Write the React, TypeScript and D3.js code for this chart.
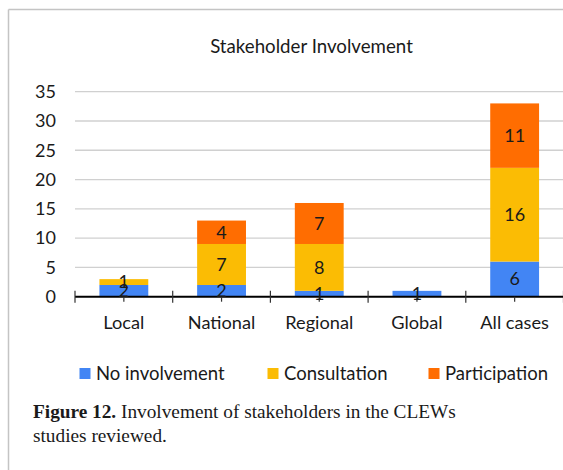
import React from "react";
import * as d3 from "d3";

const categories = ["Local", "National", "Regional", "Global", "All cases"];
const seriesNames = ["No involvement", "Consultation", "Participation"];
const noInvolvement = [2, 2, 1, 1, 6];
const consultation = [1, 7, 8, 0, 16];
const participation = [0, 4, 7, 0, 11];
const seriesColors = ["#4285f4", "#fbbc04", "#ff6d01"];
const yTicks = [0, 5, 10, 15, 20, 25, 30, 35];
const title = "Stakeholder Involvement";
const captionBold = "Figure 12.";
const captionRest = " Involvement of stakeholders in the CLEWs";
const captionLine2 = "studies reviewed.";

const W = 563;
const H = 470;
const FONT = "Lato, 'Open Sans', sans-serif";
const SERIF = "'Liberation Serif', 'DejaVu Serif', serif";

export default function App() {
  const x = d3.scaleBand<string>().domain(categories).range([75, 563.5]).paddingInner(0.5).paddingOuter(0.25);
  const y = d3.scaleLinear().domain([0, 35]).range([296.7, 91.7]);
  const rows = categories.map((c, i) => ({
    cat: c,
    s0: noInvolvement[i],
    s1: consultation[i],
    s2: participation[i],
  }));
  const stack = d3.stack<any>().keys(["s0", "s1", "s2"]);
  const layers = stack(rows);
  const step = x.step();
  const x0 = x.range()[0];
  const y0 = y(0);
  const legendX = [79.5, 267.5, 428.5];

  return (
    <svg width={W} height={H} style={{ position: "absolute", left: 0, top: 0, background: "#fff" }}>
      <rect x={0} y={0} width={W} height={H} fill="#fff" />
      <line x1={8.5} y1={9.5} x2={8.5} y2={H} stroke="#c4c4c4" strokeWidth={1.5} />
      <line x1={8.5} y1={9.5} x2={W} y2={9.5} stroke="#c4c4c4" strokeWidth={1.5} />
      <text x={311.5} y={52.5} textAnchor="middle" fontFamily={FONT} fontSize={18.7} fill="#1a1a1a">
        {title}
      </text>
      {yTicks.map((t) => (
        <g key={t}>
          {t > 0 && <line x1={75} x2={W} y1={y(t)} y2={y(t)} stroke="#d0d0d0" strokeWidth={1.3} />}
          <text x={56} y={y(t)} dy="0.35em" textAnchor="end" fontFamily={FONT} fontSize={18} fill="#1a1a1a">
            {t}
          </text>
        </g>
      ))}
      {layers.map((layer, li) =>
        layer.map((d, i) =>
          d[1] - d[0] > 0 ? (
            <rect
              key={`${li}-${i}`}
              x={x(categories[i])}
              y={y(d[1])}
              width={x.bandwidth()}
              height={y(d[0]) - y(d[1])}
              fill={seriesColors[li]}
            />
          ) : null
        )
      )}
      <line x1={75} x2={W} y1={y0} y2={y0} stroke="#000" strokeWidth={2} />
      {d3.range(categories.length + 1).map((i) => (
        <line key={`tb${i}`} x1={x0 + i * step} x2={x0 + i * step} y1={y0 - 6} y2={y0 + 6} stroke="#333" strokeWidth={1.2} />
      ))}
      {categories.map((c) => (
        <line key={`tc${c}`} x1={x(c)! + x.bandwidth() / 2} x2={x(c)! + x.bandwidth() / 2} y1={y0} y2={y0 + 5} stroke="#333" strokeWidth={1.2} />
      ))}
      {layers.map((layer, li) =>
        layer.map((d, i) =>
          d[1] - d[0] > 0 ? (
            <text
              key={`l${li}-${i}`}
              x={x(categories[i])! + x.bandwidth() / 2}
              y={(y(d[0]) + y(d[1])) / 2}
              dy="0.35em"
              textAnchor="middle"
              fontFamily={FONT}
              fontSize={18}
              fill="#1a1a1a"
            >
              {d[1] - d[0]}
            </text>
          ) : null
        )
      )}
      {categories.map((c) => (
        <text key={`cl${c}`} x={x(c)! + x.bandwidth() / 2} y={323} dy="0.35em" textAnchor="middle" fontFamily={FONT} fontSize={18.2} fill="#1a1a1a">
          {c}
        </text>
      ))}
      {seriesNames.map((s, i) => (
        <g key={s}>
          <rect x={legendX[i]} y={368} width={11} height={11} fill={seriesColors[i]} />
          <text x={legendX[i] + 16.5} y={373.5} dy="0.35em" fontFamily={FONT} fontSize={18.5} fill="#1a1a1a">
            {s}
          </text>
        </g>
      ))}
      <text x={33} y={418} fontFamily={SERIF} fontSize={19.3} fill="#1a1a1a">
        <tspan fontWeight="bold">{captionBold}</tspan>
        <tspan>{captionRest}</tspan>
      </text>
      <text x={33} y={442} fontFamily={SERIF} fontSize={19.3} fill="#1a1a1a">
        {captionLine2}
      </text>
    </svg>
  );
}
